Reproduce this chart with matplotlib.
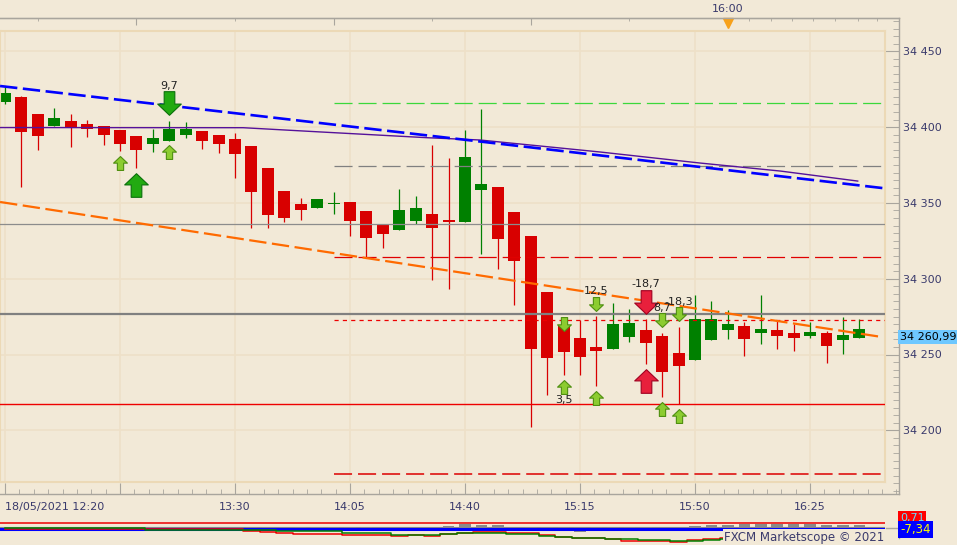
import numpy as np
import matplotlib.pyplot as plt
import matplotlib.transforms as mtransforms
from matplotlib.path import Path
from matplotlib.lines import Line2D
from matplotlib.ticker import MultipleLocator, FuncFormatter

plt.rcParams['font.family'] = ['DejaVu Sans']
plt.rcParams['lines.scale_dashes'] = False

# -- Data: 5 minute candles, 18/05/2021 from 12:20
opens = [34416.6, 34419.9, 34408.6, 34400.7, 34404.0, 34402.0, 34400.7, 34398.1, 34394.1, 34388.9,
         34390.8, 34394.8, 34397.4, 34394.8, 34392.2, 34387.5, 34373.0, 34357.8, 34349.3, 34346.6,
         34349.4, 34350.6, 34344.7, 34335.6, 34332.1, 34338.1, 34342.7, 34338.7, 34337.4, 34358.5,
         34360.5, 34344.0, 34328.2, 34291.2, 34269.5, 34260.9, 34254.9, 34253.6, 34261.5, 34266.2,
         34262.2, 34251.0, 34246.4, 34259.6, 34266.2, 34268.8, 34264.2, 34266.2, 34264.2, 34262.2,
         34264.2, 34259.6, 34260.9]
highs = [34426.3, 34420.5, 34408.6, 34412.6, 34408.6, 34404.7, 34400.7, 34398.1, 34394.1, 34398.7,
         34404.0, 34403.4, 34397.4, 34394.8, 34396.1, 34387.5, 34373.0, 34357.8, 34353.2, 34352.6,
         34357.2, 34350.6, 34344.7, 34335.6, 34359.2, 34354.6, 34388.2, 34379.6, 34398.1, 34411.9,
         34360.5, 34344.0, 34328.2, 34291.2, 34271.0, 34272.8, 34275.4, 34284.0, 34280.0, 34273.4,
         34264.2, 34268.1, 34289.2, 34285.3, 34279.4, 34271.4, 34289.2, 34272.1, 34270.1, 34271.4,
         34265.5, 34274.7, 34273.4]
lows = [34415.0, 34360.5, 34384.9, 34400.7, 34386.9, 34393.5, 34388.2, 34384.2, 34373.0, 34383.6,
        34390.8, 34392.8, 34385.6, 34382.9, 34366.4, 34333.4, 34333.4, 34337.4, 34338.7, 34346.6,
        34342.7, 34328.2, 34314.3, 34320.3, 34332.1, 34336.1, 34299.1, 34293.2, 34337.4, 34316.3,
        34306.4, 34282.7, 34202.2, 34223.3, 34236.5, 34236.5, 34229.2, 34253.6, 34258.2, 34243.7,
        34222.0, 34217.3, 34246.4, 34259.6, 34260.2, 34249.0, 34256.9, 34253.6, 34252.3, 34260.9,
        34244.4, 34250.3, 34260.9]
closes = [34422.5, 34396.8, 34394.1, 34406.0, 34400.1, 34398.7, 34394.8, 34388.9, 34384.9, 34392.8,
          34398.7, 34398.7, 34390.8, 34388.9, 34382.3, 34357.2, 34342.0, 34340.0, 34345.3, 34352.6,
          34349.8, 34338.1, 34326.8, 34329.7, 34345.3, 34346.6, 34333.4, 34337.4, 34380.3, 34362.5,
          34326.2, 34311.7, 34253.6, 34247.7, 34251.6, 34248.4, 34252.3, 34270.1, 34270.8, 34257.6,
          34238.5, 34242.4, 34273.4, 34273.4, 34270.1, 34260.2, 34266.8, 34262.2, 34260.9, 34264.8,
          34255.6, 34262.9, 34266.8]

time_ticks = [0, 7, 14, 21, 28, 35, 42, 49]
time_labels = ["18/05/2021 12:20", "", "13:30", "14:05", "14:40", "15:15", "15:50", "16:25"]
top_long_ticks = [8, 20, 32]
top_short_ticks = [2, 14, 26, 38, 45.3, 46.6, 47.9, 49.2, 50.5, 51.9, 53.1]
top_label_tick = 44
top_label = "16:00"

# trend lines and moving average (candle index, price)
blue_x = [-0.3, 53.4]
blue_y = [34427.1, 34359.8]
orange_x = [-0.3, 53.4]
orange_y = [34350.6, 34261.5]
ma_x = [-0.3, 14.5, 19.2, 25.7, 28.9, 32.6, 36.2, 42.3, 47.2, 51.9]
ma_y = [34399.7, 34399.6, 34396.8, 34393.0, 34391.5, 34387.5, 34383.6, 34376.3, 34371.0, 34364.4]

# horizontal levels (price, first candle index; None = whole chart)
level_price = [34415.7, 34374.1, 34335.9, 34314.1, 34276.7, 34272.6, 34217.2, 34171.0]
level_start = [20.0, 20.0, None, 20.0, None, 20.0, None, 20.0]

# signal arrows
sig_idx = [7, 8, 10, 10, 34, 34, 36, 36, 39, 39, 40, 40, 41, 41]
sig_price = [34376.3, 34361.8, 34415.6, 34383.6, 34270.1, 34228.6, 34283.3, 34221.3,
             34284.6, 34232.5, 34272.8, 34214.1, 34276.8, 34209.5]
sig_kind = ['up_s', 'up_L', 'down_L', 'up_s', 'down_s', 'up_s', 'down_s', 'up_s',
            'down_R', 'up_R', 'down_s', 'up_s', 'down_s', 'up_s']
lab_idx = [10, 34, 36, 39, 40, 41]
lab_price = [34427.1, 34220.0, 34291.9, 34296.5, 34280.7, 34284.6]
lab_text = ['9,7', '3,5', '12,5', '-18,7', '8,7', '-18,3']

current_price = "34 260,99"

# lower indicator strip
ind_red = [-2] * 15 + [-4, -5.3, -6.3, -7.3, -7.3, -7.3, -8, -8, -8, -8.5, -8, -9, -7.3, -6.3, -5.3,
                       -5.3, -6.3, -6.3, -8, -10.3, -11.3, -11.3, -12.3, -13.7, -13.7, -14, -14.7,
                       -12.7, -11.7, -10.7] + [-10] * 8
ind_green = [-1.3] * 9 + [-2.5] * 8 + [-3.7] * 4 + [-6.3] * 3 + [-8] * 3 + [-7.3, -6.3, -6.3, -6.3,
             -7.3, -7.3, -9, -10, -10.7, -11.3, -12, -12, -12.7, -13.3, -14, -14, -12.7, -11.7] + [-11] * 8
ind_hist = [0] * 15 + [-1.5] * 6 + [-2, -2] + [0] * 4 + [1.5, 3, 2.5, 2.5, 0, -2, -2, -3.5, -5, -3.5,
            -2, -2, -1, 0, 0, 1.5, 2.5, 2.5, 3, 3.5, 3.5, 3, 3.5, 2.5, 2.5, 2.5]
ind_values = ["0,71", "-7,34"]

# -- Layout helpers (pixels of the 957x545 picture)
W, H = 957, 545
BG = '#f2e9d7'
GRID = '#eee0c8'
AXC = '#a9a59d'
TXT = '#3a3a6c'
CANDLE_PX, X0_PX = 16.43, 5.0
PRICE_PX, Y200_PX = 1.516, 430.3


def rect(x0, y0, x1, y1):
    return [x0 / W, 1 - y1 / H, (x1 - x0) / W, (y1 - y0) / H]


def xi(px):
    return (px - X0_PX) / CANDLE_PX


def yp(py):
    return 34200 + (Y200_PX - py) / PRICE_PX


fig = plt.figure(figsize=(W / 100, H / 100), dpi=100, facecolor=BG)

# outer frame with axes ticks
fr = fig.add_axes(rect(0, 18, 899, 494), zorder=0)
fr.patch.set_visible(False)
fr.set_xlim(xi(0), xi(899))
fr.set_ylim(yp(494), yp(18))
fr.spines['left'].set_visible(False)
for s in ['top', 'right', 'bottom']:
    fr.spines[s].set_color(AXC)
    fr.spines[s].set_linewidth(1)
fr.yaxis.tick_right()
fr.yaxis.set_major_locator(MultipleLocator(50))
fr.yaxis.set_minor_locator(MultipleLocator(5))
fr.yaxis.set_major_formatter(FuncFormatter(lambda v, p: f"{int(v):,}".replace(",", " ")))
fr.set_xticks(time_ticks, time_labels)
fr.xaxis.set_minor_locator(MultipleLocator(0.875))
fr.tick_params(which='both', direction='in', color=AXC, labelcolor=TXT, labelsize=8)
fr.tick_params(axis='y', which='major', length=10, pad=3)
fr.tick_params(axis='y', which='minor', length=4.3)
fr.tick_params(axis='x', which='major', length=8, pad=6)
fr.tick_params(axis='x', which='minor', length=3.5)
fr.get_xticklabels()[0].set_horizontalalignment('left')

sec = fr.secondary_xaxis('top')
sec.set_xticks([top_label_tick], [top_label])
sec.set_xticks(top_short_ticks, minor=True)
sec.tick_params(which='major', length=0, pad=3, labelsize=8, labelcolor=TXT)
sec.tick_params(which='minor', direction='in', length=2.5, color=AXC)
sec.spines['top'].set_color(AXC)
sec2 = fr.secondary_xaxis('top')
sec2.set_xticks(top_long_ticks, ['', '', ''])
sec2.tick_params(which='major', direction='in', length=5, color=AXC)
sec2.spines['top'].set_color(AXC)
tr = mtransforms.blended_transform_factory(fr.transData, fr.transAxes)
fr.plot([top_label_tick], [1 - 4.5 / 476], marker='v', ms=6.5, color='#f7a11a',
        transform=tr, clip_on=False)

# main price panel
ax = fig.add_axes(rect(0, 31, 885, 482), zorder=1)
ax.set_facecolor(BG)
ax.set_xlim(xi(0), xi(885))
ax.set_ylim(yp(482), yp(31))
ax.set_xticks([])
ax.set_yticks([])
for s in ax.spines.values():
    s.set_color('#ecd9b6')
    s.set_linewidth(1.5)
for t in time_ticks:
    ax.axvline(t, color=GRID, lw=1.2, zorder=0)
for p in range(34200, 34451, 50):
    ax.axhline(p, color=GRID, lw=1.2, zorder=0)

o, h, l, c = map(np.array, (opens, highs, lows, closes))
x = np.arange(len(o))
cols = np.where(c >= o, '#008000', '#d80000')
ax.vlines(x, l, h, colors=cols, lw=0.9, zorder=2)
ax.bar(x, np.maximum(np.abs(c - o), 0.8), bottom=np.minimum(o, c), width=0.73,
       color=cols, lw=0, zorder=2.5)

level_style = [('#3bd83b', 0.9, (13, 4.3)), ('#808080', 0.9, (13, 4.3)), ('#8c8c8c', 0.9, None),
               ('#e00000', 0.9, (13, 4.3)), ('#808080', 1.6, None), ('#ee0000', 0.9, (3, 3)),
               ('#ee0000', 1.0, None), ('#dd0000', 1.1, (13, 4.3))]
for p, start, (col, lw, dash) in zip(level_price, level_start, level_style):
    x0 = xi(0) if start is None else start
    line, = ax.plot([x0, xi(885)], [p, p], color=col, lw=lw, zorder=3)
    if dash:
        line.set_dashes(dash)

ax.plot(ma_x, ma_y, color='#55119a', lw=1.0, zorder=3.5)
ax.plot(blue_x, blue_y, color='#0000ff', lw=1.9, dashes=(12.5, 4), zorder=4)
ax.plot(orange_x, orange_y, color='#ff6a00', lw=1.6, dashes=(12.5, 4), zorder=4)

up = Path([(0, 1), (1, 0.05), (0.45, 0.05), (0.45, -1), (-0.45, -1), (-0.45, 0.05), (-1, 0.05), (0, 1)],
          closed=True)
down = Path(up.vertices * [1, -1], closed=True)
arrow_style = {'up_s': (up, 10, '#8ccc30', '#4f8f10'), 'down_s': (down, 10, '#8ccc30', '#4f8f10'),
               'up_L': (up, 17, '#22aa11', '#0a700a'), 'down_L': (down, 17, '#22aa11', '#0a700a'),
               'up_R': (up, 17, '#e8203c', '#a00020'), 'down_R': (down, 17, '#e8203c', '#a00020')}
for xi_, p, k in zip(sig_idx, sig_price, sig_kind):
    mk, ms, fc, ec = arrow_style[k]
    ax.plot([xi_], [p], marker=mk, ms=ms, mfc=fc, mec=ec, mew=0.8, ls='none', zorder=5)
for xi_, p, t in zip(lab_idx, lab_price, lab_text):
    ax.text(xi_, p, t, ha='center', va='center', fontsize=8, color='#222222', zorder=6)

fig.text(900 / W, 1 - 337 / H, current_price, fontsize=8, color='black', ha='left', va='center',
         bbox=dict(boxstyle='square,pad=0.2', fc='#6ec8ff', ec='none'))

# lower indicator strip
ind = fig.add_axes(rect(0, 519, 885, 544), zorder=1)
ind.set_facecolor(BG)
ind.set_xlim(xi(0), xi(885))
ind.set_ylim(-17, 8)
ind.set_xticks([])
ind.set_yticks([])
for s in ind.spines.values():
    s.set_visible(False)
ind.axhline(3.7, color='#ee0000', lw=1.1, zorder=1)
ind.axhline(0, color='#888888', lw=0.8, zorder=1)
ind.bar(x, ind_hist, width=0.7, color='#8a8a8a', lw=0, zorder=2)
ind.axhline(-2.3, color='#0000ff', lw=2.2, zorder=3)
ind.step(x, ind_red, where='mid', color='#ee0000', lw=1.1, zorder=4)
ind.step(x, ind_green, where='mid', color='#008000', lw=1.1, zorder=4)
ind.text(xi(884), -10, 'FXCM Marketscope © 2021', ha='right', va='center', fontsize=8.5,
         color=TXT, zorder=6, bbox=dict(boxstyle='square,pad=0.1', fc=BG, ec='none'))
fig.add_artist(Line2D([899 / W, 899 / W], [1 - 520 / H, 1 - 538 / H], color=AXC, lw=1))
fig.add_artist(Line2D([886 / W, 899 / W], [1 - 528 / H, 1 - 528 / H], color=AXC, lw=1))
fig.text(900 / W, 1 - 518 / H, ind_values[0], fontsize=8, color='#66ddff', ha='left', va='center',
         bbox=dict(boxstyle='square,pad=0.15', fc='#ff0000', ec='none'))
fig.text(900 / W, 1 - 529.5 / H, ind_values[1], fontsize=8.5, color='#ffff00', ha='left', va='center',
         bbox=dict(boxstyle='square,pad=0.2', fc='#0000ff', ec='none'))

fig.savefig('out.png', dpi=100, facecolor=BG)
